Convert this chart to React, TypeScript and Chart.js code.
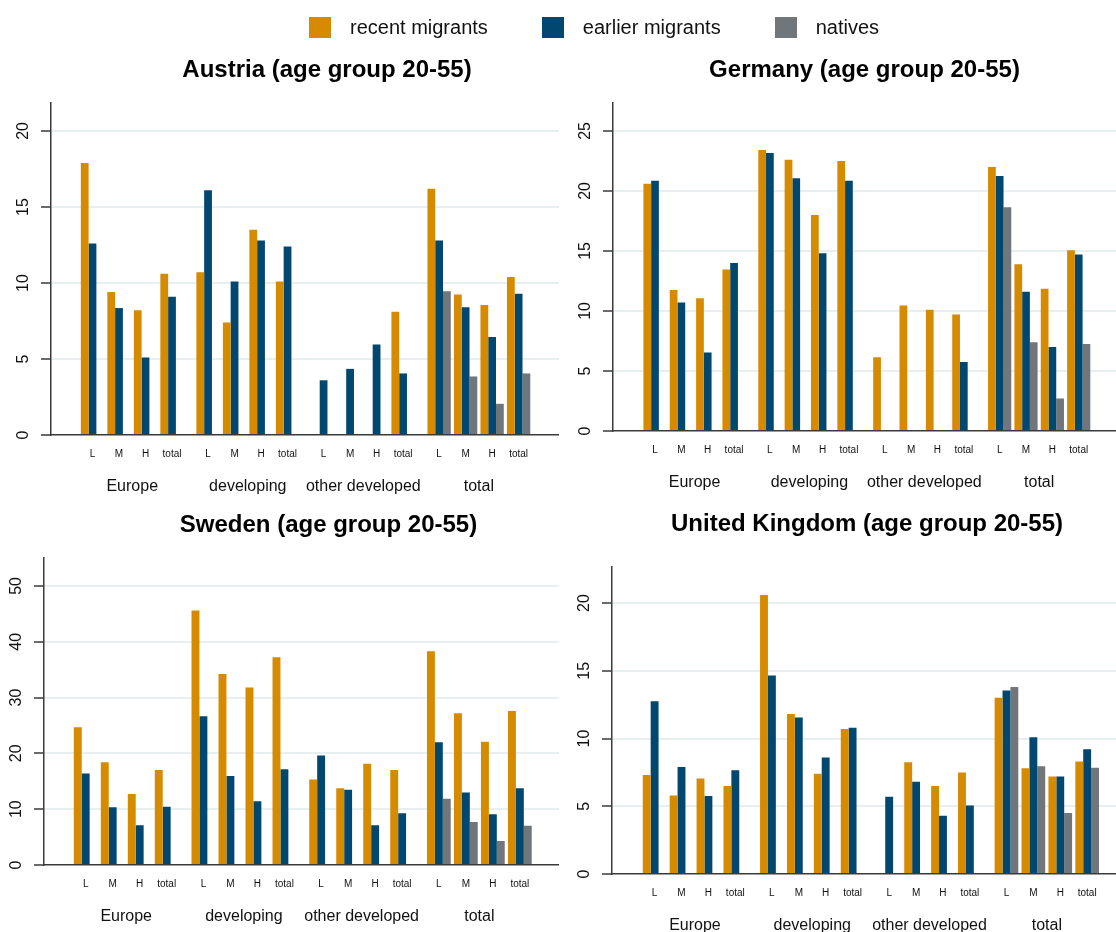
import React, { useEffect, useRef } from "react";
import { Chart, registerables } from "chart.js";

Chart.register(...registerables);

const FONT = "'Liberation Sans', Arial, Helvetica, sans-serif";

// ---------- data ----------
const seriesNames = ["recent migrants", "earlier migrants", "natives"];
const seriesColors = ["#d68a00", "#02476f", "#71767b"];
const levelLabels = ["L", "M", "H", "total"];
const groupLabels = ["Europe", "developing", "other developed", "total"];

const austriaRecent = [17.9, 9.4, 8.2, 10.6, 10.7, 7.4, 13.5, 10.1, null, null, null, 8.1, 16.2, 9.25, 8.55, 10.4];
const austriaEarlier = [12.6, 8.35, 5.1, 9.1, 16.1, 10.1, 12.8, 12.4, 3.6, 4.35, 5.95, 4.05, 12.8, 8.4, 6.45, 9.3];
const austriaNatives = [null, null, null, null, null, null, null, null, null, null, null, null, 9.45, 3.85, 2.05, 4.05];
const austriaTicks = [0, 5, 10, 15, 20];

const germanyRecent = [20.6, 11.75, 11.05, 13.45, 23.4, 22.6, 18.0, 22.5, 6.15, 10.45, 10.1, 9.7, 22.0, 13.9, 11.85, 15.05];
const germanyEarlier = [20.85, 10.7, 6.55, 14.0, 23.15, 21.05, 14.8, 20.85, null, null, null, 5.75, 21.25, 11.6, 7.0, 14.7];
const germanyNatives = [null, null, null, null, null, null, null, null, null, null, null, null, 18.65, 7.4, 2.7, 7.25];
const germanyTicks = [0, 5, 10, 15, 20, 25];

const swedenRecent = [24.7, 18.4, 12.7, 17.0, 45.6, 34.2, 31.8, 37.2, 15.3, 13.75, 18.15, 17.0, 38.3, 27.2, 22.1, 27.6];
const swedenEarlier = [16.4, 10.35, 7.1, 10.45, 26.65, 15.95, 11.4, 17.15, 19.6, 13.5, 7.1, 9.25, 22.0, 13.0, 9.1, 13.75];
const swedenNatives = [null, null, null, null, null, null, null, null, null, null, null, null, 11.85, 7.7, 4.3, 7.05];
const swedenTicks = [0, 10, 20, 30, 40, 50];

const ukRecent = [7.3, 5.8, 7.05, 6.5, 20.6, 11.8, 7.4, 10.7, null, 8.25, 6.5, 7.5, 13.0, 7.8, 7.2, 8.3];
const ukEarlier = [12.75, 7.9, 5.75, 7.65, 14.65, 11.55, 8.6, 10.8, 5.7, 6.8, 4.3, 5.05, 13.55, 10.1, 7.2, 9.2];
const ukNatives = [null, null, null, null, null, null, null, null, null, null, null, null, 13.8, 7.95, 4.5, 7.85];
const ukTicks = [0, 5, 10, 15, 20];

// ---------- layout ----------
const GROUP_STEP = 4.36;
const positions: number[] = [];
groupLabels.forEach((_, g) => levelLabels.forEach((__, i) => positions.push(g * GROUP_STEP + i)));
const groupCenters = groupLabels.map((_, g) => g * GROUP_STEP + 1.5);

const AXIS_COLOR = "#3a3a3a";
const GRID_COLOR = "#e7eff1";
const TEXT_COLOR = "#111111";

type Panel = {
  title: string;
  recent: (number | null)[];
  earlier: (number | null)[];
  natives: (number | null)[];
  yTicks: number[];
  yMax: number;
  left: number;
  top: number;
  width: number;
  height: number;
  axisWidth: number;
  xMin: number;
  xMax: number;
  titleTop: number;
  titleBottom: number;
  cover: boolean;
};

const panels: Panel[] = [
  {
    title: "Austria (age group 20-55)", recent: austriaRecent, earlier: austriaEarlier, natives: austriaNatives,
    yTicks: austriaTicks, yMax: 21.84, left: 0, top: 42, width: 603, height: 465, axisWidth: 51,
    xMin: -1.566, xMax: 19.264, titleTop: 13.6, titleBottom: 18.6, cover: false,
  },
  {
    title: "Sweden (age group 20-55)", recent: swedenRecent, earlier: swedenEarlier, natives: swedenNatives,
    yTicks: swedenTicks, yMax: 55.13, left: 0, top: 497, width: 613, height: 440, axisWidth: 44,
    xMin: -1.544, xMax: 19.53, titleTop: 13.6, titleBottom: 17.9, cover: false,
  },
  {
    title: "Germany (age group 20-55)", recent: germanyRecent, earlier: germanyEarlier, natives: germanyNatives,
    yTicks: germanyTicks, yMax: 27.35, left: 559, top: 42, width: 557, height: 461, axisWidth: 54,
    xMin: -1.594, xMax: 17.495, titleTop: 13.6, titleBottom: 18.3, cover: true,
  },
  {
    title: "United Kingdom (age group 20-55)", recent: ukRecent, earlier: ukEarlier, natives: ukNatives,
    yTicks: ukTicks, yMax: 22.68, left: 559, top: 497, width: 563, height: 449, axisWidth: 53,
    xMin: -1.584, xMax: 17.375, titleTop: 12.6, titleBottom: 28.3, cover: true,
  },
];

function PanelChart({ p }: { p: Panel }) {
  const ref = useRef<HTMLCanvasElement>(null);
  useEffect(() => {
    if (!ref.current) return;
    const series = [p.recent, p.earlier, p.natives];
    const chart = new Chart(ref.current, {
      type: "bar",
      data: {
        datasets: series.map((vals, k) => ({
          label: seriesNames[k],
          data: vals.map((v, i) => ({ x: positions[i], y: v })),
          backgroundColor: seriesColors[k],
          borderWidth: 0,
          categoryPercentage: 0.88,
          barPercentage: 1,
        })),
      },
      options: {
        responsive: false,
        animation: false,
        layout: { padding: 0 },
        plugins: {
          legend: { display: false },
          tooltip: { enabled: false },
          title: {
            display: true,
            text: p.title,
            fullSize: false,
            color: "#000",
            font: { family: FONT, size: 24, weight: "bold" },
            padding: { top: p.titleTop, bottom: p.titleBottom },
          },
        },
        scales: {
          x: {
            type: "linear",
            position: "bottom",
            offset: false,
            weight: 1,
            min: p.xMin,
            max: p.xMax,
            grid: { display: false, drawTicks: false, offset: false },
            border: { display: true, color: AXIS_COLOR, width: 1.5 },
            ticks: {
              autoSkip: false,
              minRotation: 0,
              maxRotation: 0,
              padding: 13.5,
              color: TEXT_COLOR,
              font: { family: FONT, size: 10 },
              callback: (_v: any, i: number) => levelLabels[i % 4],
            },
            afterBuildTicks: (s: any) => {
              s.ticks = positions.map((v) => ({ value: v }));
            },
            afterFit: (s: any) => {
              s.height = 32;
            },
          },
          x2: {
            type: "linear",
            position: "bottom",
            offset: false,
            weight: 2,
            min: p.xMin,
            max: p.xMax,
            grid: { display: false, drawTicks: false, offset: false },
            border: { display: false },
            ticks: {
              autoSkip: false,
              minRotation: 0,
              maxRotation: 0,
              padding: 10,
              color: TEXT_COLOR,
              font: { family: FONT, size: 16 },
              callback: (_v: any, i: number) => groupLabels[i],
            },
            afterBuildTicks: (s: any) => {
              s.ticks = groupCenters.map((v) => ({ value: v }));
            },
            afterFit: (s: any) => {
              s.height = 40;
            },
          },
          y: {
            type: "linear",
            min: 0,
            max: p.yMax,
            grid: {
              color: (c: any) => (c.tick && c.tick.value === 0 ? "rgba(0,0,0,0)" : GRID_COLOR),
              lineWidth: 2,
              drawTicks: true,
              tickLength: 10,
              tickColor: AXIS_COLOR,
              tickWidth: 1.5,
            },
            border: { display: true, color: AXIS_COLOR, width: 1.5 },
            ticks: {
              minRotation: 90,
              maxRotation: 90,
              crossAlign: "center",
              padding: 8.5,
              color: TEXT_COLOR,
              font: { family: FONT, size: 16 },
            },
            afterBuildTicks: (s: any) => {
              s.ticks = p.yTicks.map((v) => ({ value: v }));
            },
            afterFit: (s: any) => {
              s.width = p.axisWidth;
            },
          },
        },
      } as any,
    });
    return () => chart.destroy();
  }, [p]);
  return (
    <canvas
      ref={ref}
      width={p.width}
      height={p.height}
      style={{
        position: "absolute",
        left: p.left,
        top: p.top,
        width: p.width,
        height: p.height,
        background: p.cover ? "#ffffff" : "transparent",
      }}
    />
  );
}

function LegendChart() {
  const ref = useRef<HTMLCanvasElement>(null);
  useEffect(() => {
    if (!ref.current) return;
    const swatches = seriesColors.map((c) => {
      const cv = document.createElement("canvas");
      cv.width = 22;
      cv.height = 22;
      const cx = cv.getContext("2d");
      if (cx) {
        cx.fillStyle = c;
        cx.fillRect(0, 0, 22, 22);
      }
      return cv;
    });
    const chart = new Chart(ref.current, {
      type: "bar",
      data: {
        labels: [],
        datasets: seriesNames.map((n, k) => ({
          label: n,
          data: [],
          backgroundColor: seriesColors[k],
          borderWidth: 0,
          pointStyle: swatches[k],
        })),
      },
      options: {
        responsive: false,
        animation: false,
        layout: { padding: 0 },
        scales: { x: { display: false }, y: { display: false } },
        plugins: {
          tooltip: { enabled: false },
          title: { display: false },
          legend: {
            display: true,
            position: "top",
            align: "center",
            labels: {
              usePointStyle: true,
              pointStyleWidth: 40,
              padding: 45,
              color: "#111",
              font: { family: FONT, size: 20 },
            },
          },
        },
      } as any,
    });
    return () => chart.destroy();
  }, []);
  return (
    <canvas
      ref={ref}
      width={1179}
      height={130}
      style={{ position: "absolute", left: 0, top: -27, width: 1179, height: 130 }}
    />
  );
}

export default function App() {
  return (
    <div
      style={{
        position: "fixed",
        left: 0,
        top: 0,
        width: 1116,
        height: 932,
        overflow: "hidden",
        background: "#ffffff",
      }}
    >
      {panels.map((p) => (
        <PanelChart key={p.title} p={p} />
      ))}
      <LegendChart />
    </div>
  );
}
